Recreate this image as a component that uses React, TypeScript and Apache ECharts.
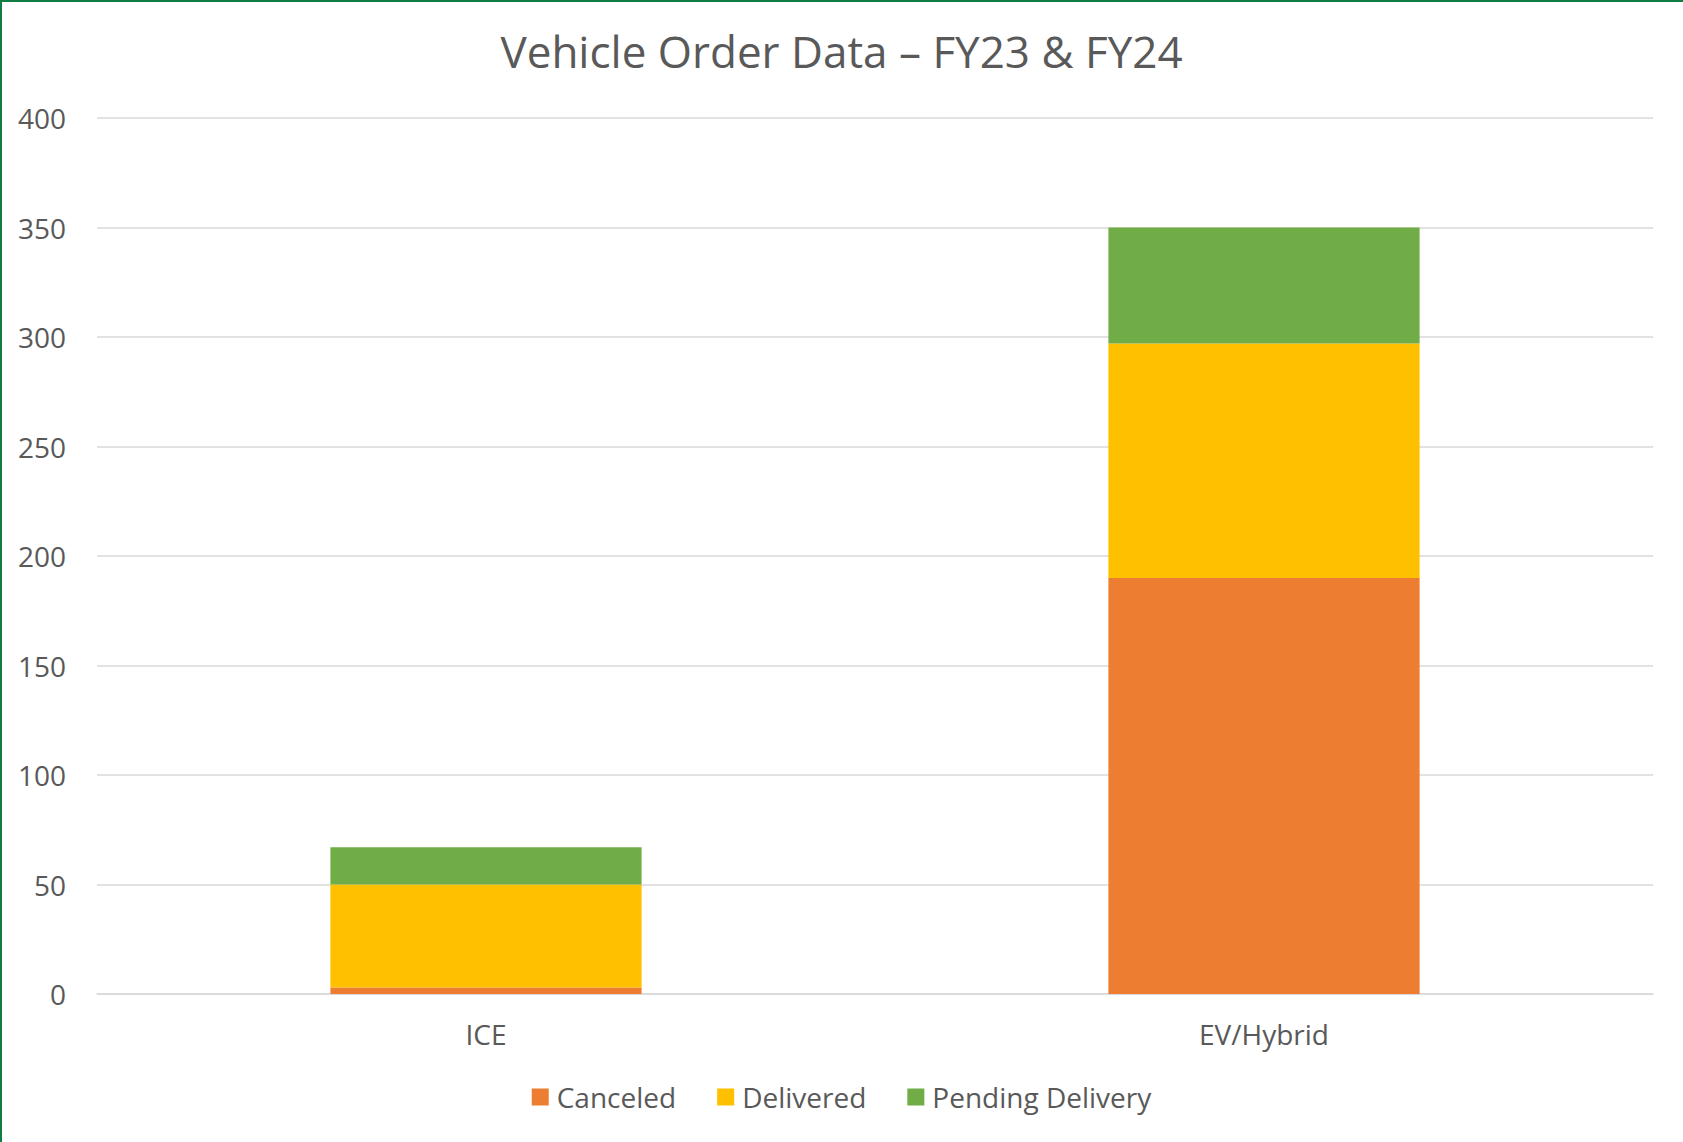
import React, { useEffect, useRef } from "react";
import * as echarts from "echarts";

const categories = ["ICE", "EV/Hybrid"];
const canceled = [3, 190];
const delivered = [47, 107];
const pending = [17, 53];
const seriesNames = ["Canceled", "Delivered", "Pending Delivery"];
const colors = ["#ED7D31", "#FFC000", "#70AD47"];
const titleText = "Vehicle Order Data – FY23 & FY24";

export default function App() {
  const ref = useRef<HTMLDivElement>(null);
  useEffect(() => {
    document.body.style.margin = "0";
    const chart = echarts.init(ref.current!, null, { renderer: "svg" });
    const font = "'Open Sans', sans-serif";
    const textColor = "#595959";
    const values = [canceled, delivered, pending];
    chart.setOption({
      animation: false,
      backgroundColor: "#ffffff",
      title: {
        text: titleText,
        left: "center",
        top: 24,
        textStyle: { fontFamily: font, fontSize: 44, fontWeight: "normal", color: textColor },
      },
      legend: {
        bottom: 26,
        left: "center",
        itemWidth: 17,
        itemHeight: 17,
        itemGap: 41,
        icon: "rect",
        textStyle: { fontFamily: font, fontSize: 28, color: textColor, padding: [0, 0, 0, 3] },
        data: seriesNames,
      },
      grid: { left: 97, right: 30, top: 118, bottom: 148, containLabel: false },
      xAxis: {
        type: "category",
        data: categories,
        axisLine: { lineStyle: { color: "#d9d9d9", width: 1.5 } },
        axisTick: { show: false },
        axisLabel: { fontFamily: font, fontSize: 28, color: textColor, margin: 26 },
      },
      yAxis: {
        type: "value",
        min: 0,
        max: 400,
        interval: 50,
        axisLine: { show: false },
        axisTick: { show: false },
        splitLine: { lineStyle: { color: "#d9d9d9", width: 1.5 } },
        axisLabel: { fontFamily: font, fontSize: 28, color: textColor, margin: 31 },
      },
      graphic: [
        { type: "line", shape: { x1: 1, y1: 0, x2: 1, y2: 1142 }, style: { stroke: "#107C41", lineWidth: 2 } },
        { type: "line", shape: { x1: 0, y1: 1, x2: 1683, y2: 1 }, style: { stroke: "#107C41", lineWidth: 2 } },
      ],
      series: seriesNames.map((name, i) => ({
        name,
        type: "bar",
        stack: "total",
        barWidth: "40%",
        data: values[i],
        itemStyle: { color: colors[i] },
      })),
    });
    return () => chart.dispose();
  }, []);
  return (
    <div
      ref={ref}
      style={{ position: "fixed", left: 0, top: 0, width: 1683, height: 1142 }}
    />
  );
}
